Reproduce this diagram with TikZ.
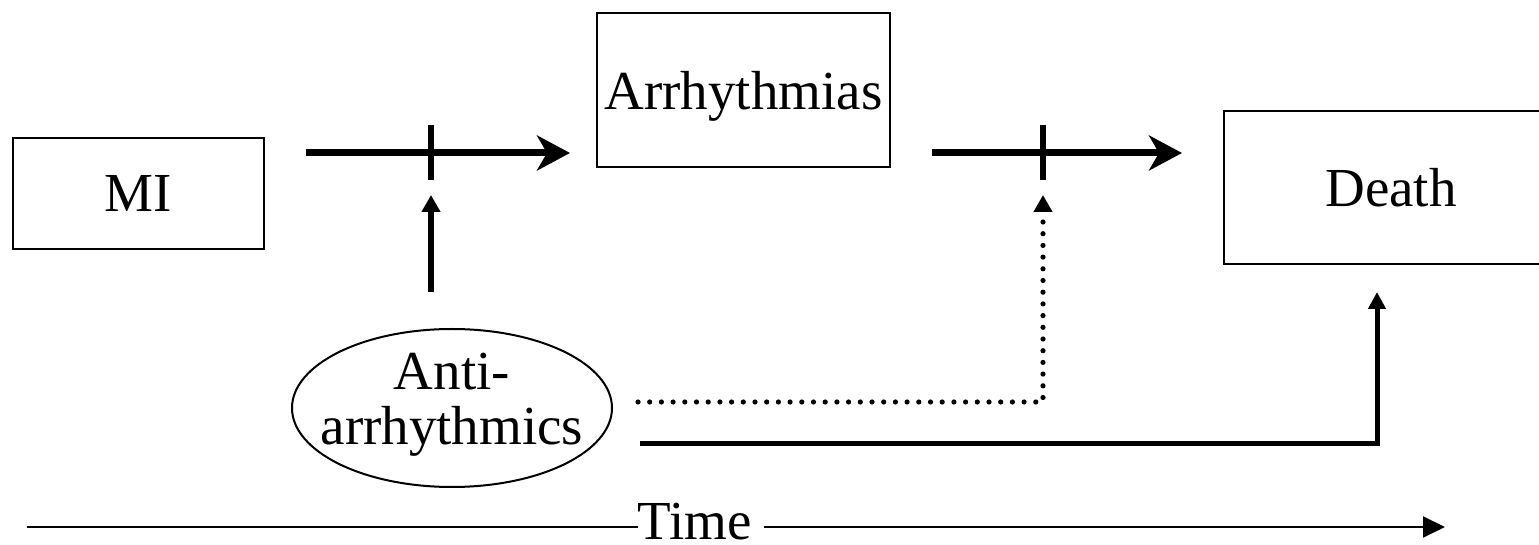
\documentclass[tikz,border=0pt]{standalone}
\usepackage{fontspec}
\setmainfont{Liberation Serif}
\usetikzlibrary{arrows.meta,shapes.geometric,positioning}

\begin{document}
\begin{tikzpicture}[x=0.5pt,y=-0.5pt]
    \tikzstyle{texte}=[font=\fontsize{27.5pt}{27.5pt}\selectfont, inner sep=0pt]
    \tikzstyle{boite}=[texte, draw, line width=1pt, rectangle, text depth=0pt]
    \tikzstyle{gros}=[line width=3.5pt, -{Stealth[length=16.5pt,width=17.5pt,inset=5pt]}]
    \tikzstyle{barre}=[line width=3pt]
    \tikzstyle{petit}=[line width=3pt, -{Triangle[length=8.5pt,width=9pt]}]
    \tikzstyle{pointille}=[line width=2.6pt, line cap=round, dash pattern=on 0pt off 5.85pt, -{Triangle[length=8.5pt,width=9pt]}]
    \tikzstyle{temps}=[line width=1pt]

\useasboundingbox (0,0) rectangle (1539,545);

% Boites
\node[boite, minimum width=125.5pt, minimum height=55.5pt] (MI) at (138.5,193.5) {MI};
\node[boite, minimum width=146.5pt, minimum height=77pt] (A) at (743.5,90) {Arrhythmias};
\node[boite, minimum width=167pt, minimum height=76.5pt] (D) at (1391,187.5) {Death};

% Traitement
\node[ellipse, draw, line width=1pt, minimum width=160pt, minimum height=79pt, inner sep=0pt] (AA) at (452,408) {};
\node[texte, align=center] (AAt) at (452,405) {Anti-\\arrhythmics};

% Points
\coordinate (a1) at (306,153);
\coordinate (a2) at (570,153);
\coordinate (b1) at (932,153);
\coordinate (b2) at (1182,153);
\coordinate (c1) at (431,292);
\coordinate (c2) at (431,195);
\coordinate (d1) at (638,402);
\coordinate (d2) at (1043,402);
\coordinate (d3) at (1043,195);
\coordinate (e1) at (640,444);
\coordinate (e2) at (1377,444);
\coordinate (e3) at (1377,292);

% Fleches
\draw[gros] (a1) -- (a2);
\draw[barre] (c2 |- 0,125) -- (c2 |- 0,180);
\draw[petit] (c1) -- (c2);

\draw[gros] (b1) -- (b2);
\draw[barre] (d3 |- 0,125) -- (d3 |- 0,180);
\draw[pointille] (d1) -- (d2) -- (d3);

\draw[line width=2.5pt, -{Triangle[length=8.5pt,width=8.5pt]}] (e1) -- (e2) -- (e3);

% Temps
\node[texte] (T) at (695,521.5) {Time};
\coordinate (T0) at (27,527);
\coordinate (T1) at (1445,527);
\draw[temps] (T0) -- (T0 -| T.west);
\draw[temps, -{Triangle[length=11pt,width=10.5pt]}] ([xshift=6pt]T.east |- T1) -- (T1);

\end{tikzpicture}
\end{document}
